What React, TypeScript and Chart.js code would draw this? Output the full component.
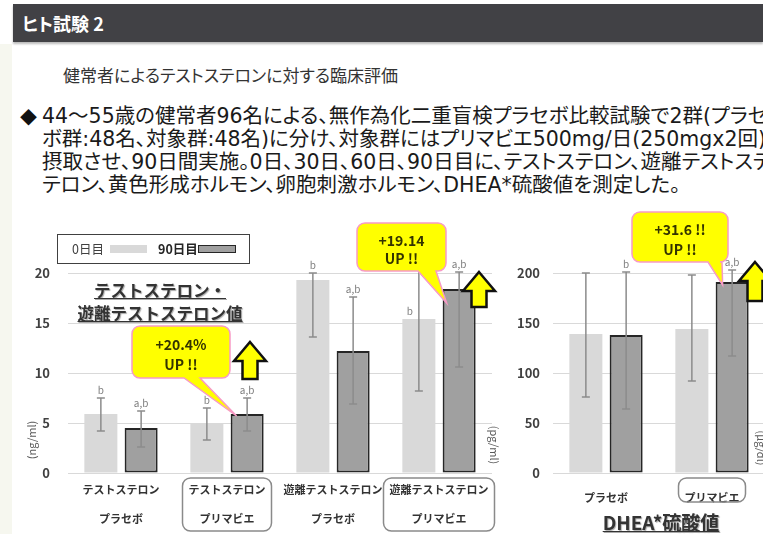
import React, { useEffect, useRef } from 'react';
import { Chart, registerables } from 'chart.js';
Chart.register(...registerables);

const FONT = '"Noto Sans CJK JP", "Noto Sans", sans-serif';
const BODY_FONT = '"DejaVu Sans", "Noto Sans CJK JP", sans-serif';

// ---------- data ----------
const seriesLabels = ['0日目', '90日目'];

const leftCategories = [
  ['テストステロン', 'プラセボ'],
  ['テストステロン', 'プリマビエ'],
  ['遊離テストステロン', 'プラセボ'],
  ['遊離テストステロン', 'プリマビエ'],
];
const leftDay0 = [5.9, 4.9, 19.3, 15.4];
const leftDay0Low = [4.2, 3.3, 13.6, 8.2];
const leftDay0High = [7.5, 6.5, 20.0, 22.6];
const leftDay90 = [4.5, 5.9, 12.2, 18.4];
const leftDay90Low = [2.6, 4.2, 6.9, 10.6];
const leftDay90High = [6.2, 7.5, 17.6, 20.1];
const leftDay0Sig = ['b', 'b', 'b', 'b'];
const leftDay90Sig = ['a,b', 'a,b', 'a,b', 'a,b'];
const leftTicks = [0, 5, 10, 15, 20];

const rightCategories = ['プラセボ', 'プリマビエ'];
const rightDay0 = [139, 144];
const rightDay0Low = [76, 92];
const rightDay0High = [200, 198];
const rightDay90 = [138, 191];
const rightDay90Low = [64, 117];
const rightDay90High = [201, 203];
const rightDay0Sig = ['', ''];
const rightDay90Sig = ['b', 'a,b'];
const rightTicks = [0, 50, 100, 150, 200];

const callout1 = ['+20.4%', 'UP !!'];
const callout2 = ['+19.14', 'UP !!'];
const callout3 = ['+31.6 !!', 'UP !!'];

const bodyLines = [
  '44～55歳の健常者96名による、無作為化二重盲検プラセボ比較試験で2群(プラセボ群',
  'ボ群:48名、対象群:48名)に分け、対象群にはプリマビエ500mg/日(250mgx2回)を',
  '摂取させ、90日間実施。0日、30日、60日、90日目に、テストステロン、遊離テストステ',
  'テロン、黄色形成ホルモン、卵胞刺激ホルモン、DHEA*硫酸値を測定した。',
];

// ---------- drawing helpers ----------
function calloutPath(ctx: CanvasRenderingContext2D, b: number[], base: number[], tip: number[], r: number) {
  const [x1, y1, x2, y2] = b;
  ctx.beginPath();
  ctx.moveTo(x1 + r, y1);
  ctx.lineTo(x2 - r, y1);
  ctx.arcTo(x2, y1, x2, y1 + r, r);
  ctx.lineTo(x2, y2 - r);
  ctx.arcTo(x2, y2, x2 - r, y2, r);
  ctx.lineTo(base[1], y2);
  ctx.lineTo(tip[0], tip[1]);
  ctx.lineTo(base[0], y2);
  ctx.lineTo(x1 + r, y2);
  ctx.arcTo(x1, y2, x1, y2 - r, r);
  ctx.lineTo(x1, y1 + r);
  ctx.arcTo(x1, y1, x1 + r, y1, r);
  ctx.closePath();
}

function roundBox(ctx: CanvasRenderingContext2D, x1: number, y1: number, x2: number, y2: number, r: number) {
  ctx.beginPath();
  ctx.moveTo(x1 + r, y1);
  ctx.arcTo(x2, y1, x2, y2, r);
  ctx.arcTo(x2, y2, x1, y2, r);
  ctx.arcTo(x1, y2, x1, y1, r);
  ctx.arcTo(x1, y1, x2, y1, r);
  ctx.closePath();
}

const decorPlugin = {
  id: 'decor',
  afterDraw(chart: any, _args: any, opts: any) {
    const ctx: CanvasRenderingContext2D = chart.ctx;
    const ys = chart.scales.y;
    const xs = chart.scales.x;
    const ca = chart.chartArea;
    ctx.save();
    // error bars + significance letters
    (opts.errors || []).forEach((err: any, di: number) => {
      const meta = chart.getDatasetMeta(di);
      meta.data.forEach((el: any, j: number) => {
        const x = el.x;
        const yh = ys.getPixelForValue(err.high[j]);
        const yl = ys.getPixelForValue(err.low[j]);
        ctx.strokeStyle = '#8c8c8c';
        ctx.lineWidth = 1.5;
        ctx.beginPath();
        ctx.moveTo(x, yh); ctx.lineTo(x, yl);
        ctx.moveTo(x - 4, yh); ctx.lineTo(x + 4, yh);
        ctx.moveTo(x - 4, yl); ctx.lineTo(x + 4, yl);
        ctx.stroke();
        const s = err.sig[j];
        if (s) {
          ctx.fillStyle = '#7f7f7f';
          ctx.font = `10px ${FONT}`;
          ctx.textAlign = 'center';
          ctx.textBaseline = 'alphabetic';
          if (err.high[j] > ys.max * 1.05) ctx.fillText(s, x - 9, el.y - 4);
          else ctx.fillText(s, x, yh - 4);
        }
      });
    });
    // boxes around category labels
    (opts.boxed || []).forEach((i: number) => {
      const lab = chart.data.labels[i];
      const lines = Array.isArray(lab) ? lab : [lab];
      ctx.font = `bold 11px ${FONT}`;
      const w = Math.max(...lines.map((l: string) => ctx.measureText(l).width)) + 12;
      const cx = xs.getPixelForTick(i);
      const top = ca.bottom + 5;
      const bottom = top + lines.length * 29 - 5;
      ctx.strokeStyle = '#8a8a8a';
      ctx.lineWidth = 1.5;
      roundBox(ctx, cx - w / 2, top, cx + w / 2, bottom, 8);
      ctx.stroke();
    });
    // callouts
    (opts.callouts || []).forEach((c: any) => {
      const el = chart.getDatasetMeta(c.ds).data[c.idx];
      const tip = [el.x - el.width / 2 + c.tip[0], el.y + c.tip[1]];
      calloutPath(ctx, c.box, c.base, tip, 8);
      ctx.fillStyle = '#ffff00';
      ctx.fill();
      ctx.strokeStyle = '#f79ac6';
      ctx.lineWidth = 1.5;
      ctx.stroke();
      const [x1, y1, x2, y2] = c.box;
      const h = y2 - y1;
      ctx.fillStyle = '#333300';
      ctx.font = `bold 14px ${FONT}`;
      ctx.textAlign = 'center';
      ctx.textBaseline = 'middle';
      ctx.fillText(c.lines[0], (x1 + x2) / 2, y1 + h * 0.36);
      ctx.fillText(c.lines[1], (x1 + x2) / 2, y1 + h * 0.75);
    });
    // block arrows
    (opts.arrows || []).forEach((a: any) => {
      const { cx, top, bottom } = a;
      const hw = 16, hh = 19, sw = 7.5;
      ctx.beginPath();
      ctx.moveTo(cx, top);
      ctx.lineTo(cx + hw, top + hh);
      ctx.lineTo(cx + sw, top + hh);
      ctx.lineTo(cx + sw, bottom);
      ctx.lineTo(cx - sw, bottom);
      ctx.lineTo(cx - sw, top + hh);
      ctx.lineTo(cx - hw, top + hh);
      ctx.closePath();
      ctx.fillStyle = '#ffff00';
      ctx.fill();
      ctx.strokeStyle = '#111';
      ctx.lineWidth = 2.5;
      ctx.lineJoin = 'miter';
      ctx.stroke();
    });
    // unit labels
    (opts.units || []).forEach((u: any) => {
      ctx.save();
      ctx.translate(u.x, u.y);
      ctx.rotate(u.rot);
      ctx.fillStyle = '#595959';
      ctx.font = `11px ${FONT}`;
      ctx.textAlign = 'center';
      ctx.textBaseline = 'middle';
      ctx.fillText(u.text, 0, 0);
      ctx.restore();
    });
    ctx.restore();
  },
};

function makeConfig(p: any): any {
  return {
    type: 'bar',
    data: {
      labels: p.categories,
      datasets: [
        {
          label: seriesLabels[0],
          data: p.day0,
          backgroundColor: '#d9d9d9',
          borderWidth: 0,
          categoryPercentage: 0.76,
          barPercentage: 0.82,
        },
        {
          label: seriesLabels[1],
          data: p.day90,
          backgroundColor: '#a0a0a0',
          borderColor: '#262626',
          borderWidth: 2,
          borderSkipped: false,
          categoryPercentage: 0.76,
          barPercentage: 0.82,
        },
      ],
    },
    options: {
      responsive: false,
      animation: false,
      layout: { padding: { top: 73, right: p.padRight, left: 0, bottom: 0 } },
      plugins: {
        legend: { display: false },
        tooltip: { enabled: false },
        decor: p.decor,
      },
      scales: {
        x: {
          grid: { display: false, drawTicks: false },
          border: { display: false },
          ticks: {
            autoSkip: false,
            maxRotation: 0,
            color: '#333',
            padding: p.xPad,
            font: { family: FONT, size: 11, weight: 'bold', lineHeight: 29 / 11 },
          },
          afterFit: (s: any) => { s.height = 61; },
        },
        y: {
          min: p.ticks[0],
          max: p.ticks[p.ticks.length - 1],
          ticks: {
            stepSize: p.ticks[1] - p.ticks[0],
            color: '#404040',
            padding: p.yPad,
            font: { family: FONT, size: 13, weight: 'bold' },
          },
          grid: { color: '#d9d9d9', lineWidth: 1, drawTicks: false },
          border: { display: false },
          afterFit: (s: any) => { s.width = p.yWidth; },
        },
      },
    },
    plugins: [decorPlugin],
  };
}

export default function App() {
  const leftRef = useRef<HTMLCanvasElement>(null);
  const rightRef = useRef<HTMLCanvasElement>(null);

  useEffect(() => {
    const c1 = new Chart(leftRef.current as HTMLCanvasElement, makeConfig({
      categories: leftCategories,
      day0: leftDay0,
      day90: leftDay90,
      ticks: leftTicks,
      padRight: 13,
      yWidth: 68,
      yPad: 18,
      xPad: 2,
      decor: {
        errors: [
          { low: leftDay0Low, high: leftDay0High, sig: leftDay0Sig },
          { low: leftDay90Low, high: leftDay90High, sig: leftDay90Sig },
        ],
        boxed: [1, 3],
        callouts: [
          { ds: 1, idx: 1, box: [132, 126, 230, 178], base: [184, 200], tip: [6, 2], lines: callout1 },
          { ds: 1, idx: 3, box: [357, 23, 446, 71], base: [418, 436], tip: [4, 14], lines: callout2 },
        ],
        arrows: [
          { cx: 250, top: 142, bottom: 179 },
          { cx: 479, top: 72, bottom: 107 },
        ],
        units: [
          { text: '(ng/ml)', x: 32, y: 240, rot: -Math.PI / 2 },
          { text: '(pg/ml)', x: 494, y: 245, rot: Math.PI / 2 },
        ],
      },
    }));
    const c2 = new Chart(rightRef.current as HTMLCanvasElement, makeConfig({
      categories: rightCategories,
      day0: rightDay0,
      day90: rightDay90,
      ticks: rightTicks,
      padRight: 15,
      yWidth: 53,
      yPad: 13,
      xPad: 10,
      decor: {
        errors: [
          { low: rightDay0Low, high: rightDay0High, sig: rightDay0Sig },
          { low: rightDay90Low, high: rightDay90High, sig: rightDay90Sig },
        ],
        boxed: [1],
        callouts: [
          { ds: 1, idx: 1, box: [132, 12, 228, 62], base: [208, 222], tip: [7, 3], lines: callout3 },
        ],
        arrows: [{ cx: 255, top: 62, bottom: 101 }],
        units: [{ text: '(μg/dl)', x: 261, y: 248, rot: Math.PI / 2 }],
      },
    }));
    return () => { c1.destroy(); c2.destroy(); };
  }, []);

  return (
    <div style={{ position: 'fixed', left: 0, top: 0, width: 763, height: 534, overflow: 'hidden', background: '#fff', fontFamily: FONT }}>
      <div style={{ position: 'absolute', left: 0, top: 44, width: 12, height: 490, background: '#f6f7ef' }} />
      <div style={{ position: 'absolute', left: 13, top: 4, width: 750, height: 38, background: '#414145', boxShadow: '0 2px 2px #bbb' }}>
        <div style={{ position: 'absolute', left: 9, top: 0, lineHeight: '38px', color: '#fff', fontWeight: 'bold', fontSize: 18, fontFeatureSettings: '"palt"' }}>ヒト試験 2</div>
      </div>
      <div style={{ position: 'absolute', left: 63, top: 62, fontSize: 17, lineHeight: '26px', color: '#333', whiteSpace: 'nowrap', fontFeatureSettings: '"palt"' }}>
        健常者によるテストステロンに対する臨床評価
      </div>
      <div style={{ position: 'absolute', left: 20, top: 105, fontSize: 17, lineHeight: '23px', color: '#111' }}>◆</div>
      <div style={{ position: 'absolute', left: 42, top: 105, fontSize: 20.5, lineHeight: '23px', color: '#1a1a1a', whiteSpace: 'pre', fontFamily: BODY_FONT, fontFeatureSettings: '"palt"' }}>
        {bodyLines.join('\n')}
      </div>

      <canvas ref={leftRef} width={505} height={334} style={{ position: 'absolute', left: 0, top: 200, width: 505, height: 334 }} />
      <canvas ref={rightRef} width={280} height={334} style={{ position: 'absolute', left: 500, top: 200, width: 280, height: 334 }} />

      <div style={{ position: 'absolute', left: 57, top: 234, width: 191, height: 28, border: '1.5px solid #404040', background: '#fff' }}>
        <span style={{ position: 'absolute', left: 14, top: 0, lineHeight: '28px', fontSize: 12.5, color: '#404040' }}>{seriesLabels[0]}</span>
        <span style={{ position: 'absolute', left: 52, top: 10, width: 37, height: 8, background: '#d9d9d9' }} />
        <span style={{ position: 'absolute', left: 100, top: 0, lineHeight: '28px', fontSize: 12.5, fontWeight: 'bold', color: '#262626' }}>{seriesLabels[1]}</span>
        <span style={{ position: 'absolute', left: 140, top: 10, width: 36, height: 6, background: '#a0a0a0', border: '1.5px solid #262626' }} />
      </div>

      <div style={{ position: 'absolute', left: 60, top: 279, width: 200, textAlign: 'center', fontSize: 16.5, lineHeight: '23px', fontWeight: 'bold', color: '#333', textDecoration: 'underline', textShadow: '1px 1px 1px #aaa', whiteSpace: 'nowrap' }}>
        テストステロン・<br />遊離テストステロン値
      </div>

      <div style={{ position: 'absolute', left: 561, top: 509, width: 200, textAlign: 'center', fontSize: 19, lineHeight: '26px', fontWeight: 'bold', color: '#333', textDecoration: 'underline', textShadow: '1px 1px 1px #aaa', whiteSpace: 'nowrap' }}>
        DHEA*硫酸値
      </div>
    </div>
  );
}
